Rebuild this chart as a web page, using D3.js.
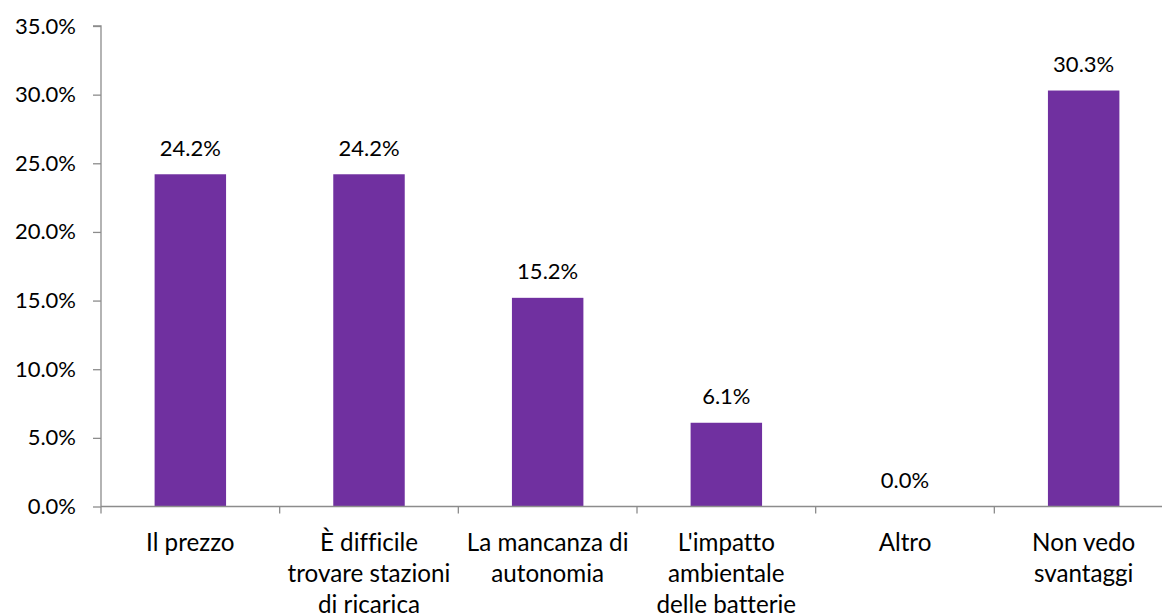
<!DOCTYPE html>
<html>
<head>
<meta charset="utf-8">
<script src="https://cdn.jsdelivr.net/npm/d3@7"></script>
<style>
  html, body { margin: 0; padding: 0; background: #fff; }
  svg { display: block; font-family: Lato, "Open Sans", sans-serif; font-variant-ligatures: none; }
</style>
</head>
<body>
<svg id="chart" width="1162" height="616"></svg>
<script>
// Categories (each label split into its display lines)
const categories = [
  ["Il prezzo"],
  ["È difficile", "trovare stazioni", "di ricarica"],
  ["La mancanza di", "autonomia"],
  ["L'impatto", "ambientale", "delle batterie"],
  ["Altro"],
  ["Non vedo", "svantaggi"]
];
const values = [24.2, 24.2, 15.2, 6.1, 0.0, 30.3];
const yTicks = [0, 5, 10, 15, 20, 25, 30, 35];

const svg = d3.select("#chart");
const axisColor = "#8c8c8c";
const barColor = "#7030A0";
const numSize = 22;
const catSize = 24.2;

const plotLeft = 101, plotRight = 1173, plotTop = 26, plotBottom = 506.5;

const keys = categories.map(c => c.join(" "));
const x = d3.scaleBand().domain(keys).range([plotLeft, plotRight]).paddingInner(0.6).paddingOuter(0.3);
const xOuter = d3.scaleBand().domain(keys).range([plotLeft, plotRight]);
const y = d3.scaleLinear().domain([0, 35]).range([plotBottom, plotTop]);

// Bars
svg.append("g").selectAll("rect")
  .data(values)
  .join("rect")
  .attr("x", (d, i) => x(keys[i]))
  .attr("width", x.bandwidth())
  .attr("y", d => y(d))
  .attr("height", d => y(0) - y(d))
  .attr("fill", barColor);

// Value labels
svg.append("g").selectAll("text")
  .data(values)
  .join("text")
  .attr("x", (d, i) => x(keys[i]) + x.bandwidth() / 2)
  .attr("y", d => y(d) - 18.5)
  .attr("text-anchor", "middle")
  .attr("font-size", numSize)
  .attr("fill", "#000")
  .text(d => d.toFixed(1) + "%");

// Y axis
const yAxis = svg.append("g")
  .attr("transform", `translate(${plotLeft},0)`)
  .call(d3.axisLeft(y).tickValues(yTicks).tickSize(8).tickPadding(17)
    .tickFormat(d => d.toFixed(1) + "%"));
yAxis.select(".domain").attr("stroke", axisColor).attr("stroke-width", 1.3)
  .attr("d", `M-8,${plotTop}H0V${plotBottom}`);
yAxis.selectAll(".tick line").attr("stroke", axisColor).attr("stroke-width", 1.3);
yAxis.selectAll(".tick text").attr("font-size", numSize).attr("fill", "#000")
  .attr("font-family", "Lato, 'Open Sans', sans-serif");

// X axis with ticks at category boundaries
const xg = svg.append("g").attr("transform", `translate(0,${plotBottom})`);
xg.append("line").attr("x1", plotLeft).attr("x2", plotRight).attr("y1", 0).attr("y2", 0)
  .attr("stroke", axisColor).attr("stroke-width", 1.3);
const boundaries = keys.map(k => xOuter(k)).concat([plotRight]);
xg.selectAll("line.tk").data(boundaries).join("line").attr("class", "tk")
  .attr("x1", d => d).attr("x2", d => d).attr("y1", 0).attr("y2", 7)
  .attr("stroke", axisColor).attr("stroke-width", 1.3);

// Category labels
const lab = svg.append("g").selectAll("text")
  .data(categories)
  .join("text")
  .attr("text-anchor", "middle")
  .attr("font-size", catSize)
  .attr("fill", "#000");
lab.each(function(lines, i) {
  const cx = xOuter(keys[i]) + xOuter.bandwidth() / 2;
  d3.select(this).selectAll("tspan").data(lines).join("tspan")
    .attr("x", cx)
    .attr("y", (l, j) => 550.5 + j * 31.3)
    .text(l => l);
});
</script>
</body>
</html>
